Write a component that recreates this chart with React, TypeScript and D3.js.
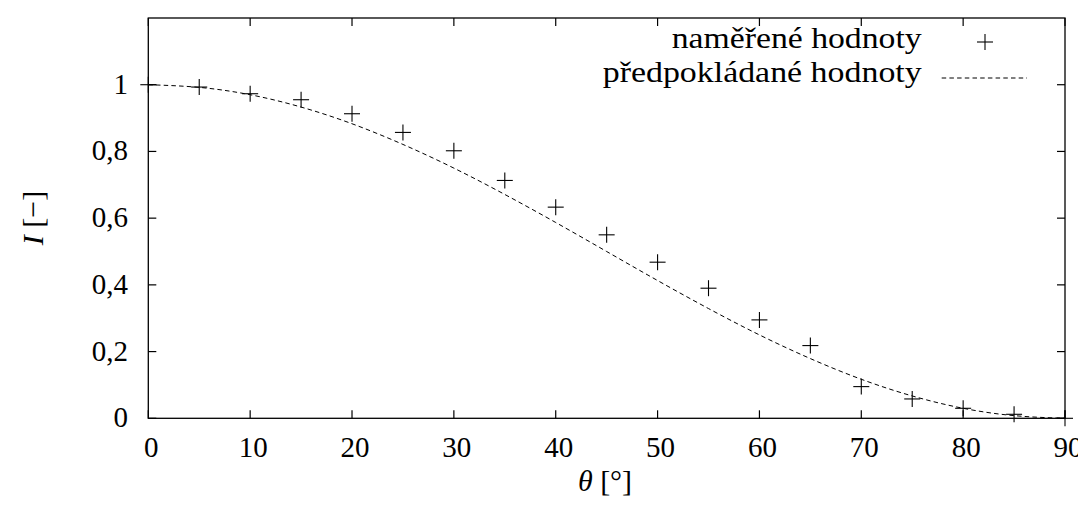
import React from "react";
import * as d3 from "d3";

const measuredAngles = [0, 5, 10, 15, 20, 25, 30, 35, 40, 45, 50, 55, 60, 65, 70, 75, 80, 85, 90];
const measuredValues = [1.0, 0.993, 0.973, 0.955, 0.913, 0.857, 0.802, 0.713, 0.633, 0.55, 0.468, 0.39, 0.295, 0.218, 0.095, 0.058, 0.03, 0.012, 0.0];
const predictedAngles = [0, 5, 10, 15, 20, 25, 30, 35, 40, 45, 50, 55, 60, 65, 70, 75, 80, 85, 90];
const predictedValues = [1.0, 0.992, 0.97, 0.933, 0.883, 0.821, 0.75, 0.671, 0.587, 0.5, 0.413, 0.329, 0.25, 0.179, 0.117, 0.067, 0.03, 0.008, 0.0];
const xTicks = [0, 10, 20, 30, 40, 50, 60, 70, 80, 90];
const yTicks = [0, 0.2, 0.4, 0.6, 0.8, 1];
const yTickLabels = ["0", "0,2", "0,4", "0,6", "0,8", "1"];
const legendMeasured = "naměřené hodnoty";
const legendPredicted = "předpokládané hodnoty";

const W = 1086;
const H = 507;
const L = 148.3;
const R = 1065;
const T = 18;
const B = 418.3;

export default function App() {
  const x = d3.scaleLinear().domain([0, 90]).range([L, R]);
  const y = d3.scaleLinear().domain([0, 1.2]).range([B, T]);
  const line = d3
    .line<number>()
    .x((_, i) => x(predictedAngles[i]))
    .y((d) => y(d))
    .curve(d3.curveNatural);
  const tick = 8;
  const cs = 8;
  const fs = 29;
  return (
    <svg width={W} height={H} style={{ display: "block", margin: "-8px 0 0 -8px" }}>
      <rect x={0} y={0} width={W} height={H} fill="#fff" />
      {xTicks.map((t) => (
        <g key={"xt" + t}>
          <line x1={x(t)} x2={x(t)} y1={B} y2={B - tick} stroke="#000" strokeWidth={1.2} />
          <line x1={x(t)} x2={x(t)} y1={T} y2={T + tick} stroke="#000" strokeWidth={1.2} />
          <text x={x(t) + 3} y={457} style={{ fontFamily: "Liberation Serif", fontSize: fs }} textAnchor="middle" fill="#000">
            {t}
          </text>
        </g>
      ))}
      {yTicks.map((t, i) => (
        <g key={"yt" + t}>
          <line x1={L} x2={L + tick} y1={y(t)} y2={y(t)} stroke="#000" strokeWidth={1.2} />
          <line x1={R} x2={R - tick} y1={y(t)} y2={y(t)} stroke="#000" strokeWidth={1.2} />
          <text x={128} y={y(t) + 9} style={{ fontFamily: "Liberation Serif", fontSize: fs }} textAnchor="end" fill="#000">
            {yTickLabels[i]}
          </text>
        </g>
      ))}
      <path
        d={line(predictedValues) || ""}
        fill="none"
        stroke="#000"
        strokeWidth={1}
        strokeDasharray="4.5,3.2"
      />
      {measuredValues.map((v, i) => {
        const cx = x(measuredAngles[i]);
        const cy = y(v);
        return (
          <g key={"p" + i} stroke="#000" strokeWidth={1.1}>
            <line x1={cx - cs} x2={cx + cs} y1={cy} y2={cy} />
            <line x1={cx} x2={cx} y1={cy - cs} y2={cy + cs} />
          </g>
        );
      })}
      <rect x={L} y={T} width={R - L} height={B - T} fill="none" stroke="#000" strokeWidth={1.3} />
      <text x={921.7} y={48} style={{ fontFamily: "Liberation Serif", fontSize: 29 }} textAnchor="end" textLength={250} lengthAdjust="spacingAndGlyphs" fill="#000">
        {legendMeasured}
      </text>
      <g stroke="#000" strokeWidth={1.1}>
        <line x1={985 - cs} x2={985 + cs} y1={42} y2={42} />
        <line x1={985} x2={985} y1={42 - cs} y2={42 + cs} />
      </g>
      <text x={921.7} y={81.5} style={{ fontFamily: "Liberation Serif", fontSize: 29 }} textAnchor="end" textLength={319} lengthAdjust="spacingAndGlyphs" fill="#000">
        {legendPredicted}
      </text>
      <line x1={941.7} x2={1027} y1={78} y2={78} stroke="#000" strokeWidth={1} strokeDasharray="4.5,3.2" />
      <text x={605} y={491} style={{ fontFamily: "Liberation Serif", fontSize: 30 }} textAnchor="middle" fill="#000">
        <tspan fontStyle="italic">θ</tspan>
        <tspan> [°]</tspan>
      </text>
      <text transform="translate(43,218) rotate(-90)" style={{ fontFamily: "Liberation Serif", fontSize: 30 }} textAnchor="middle" fill="#000">
        <tspan fontStyle="italic">I</tspan>
        <tspan> [−]</tspan>
      </text>
    </svg>
  );
}
